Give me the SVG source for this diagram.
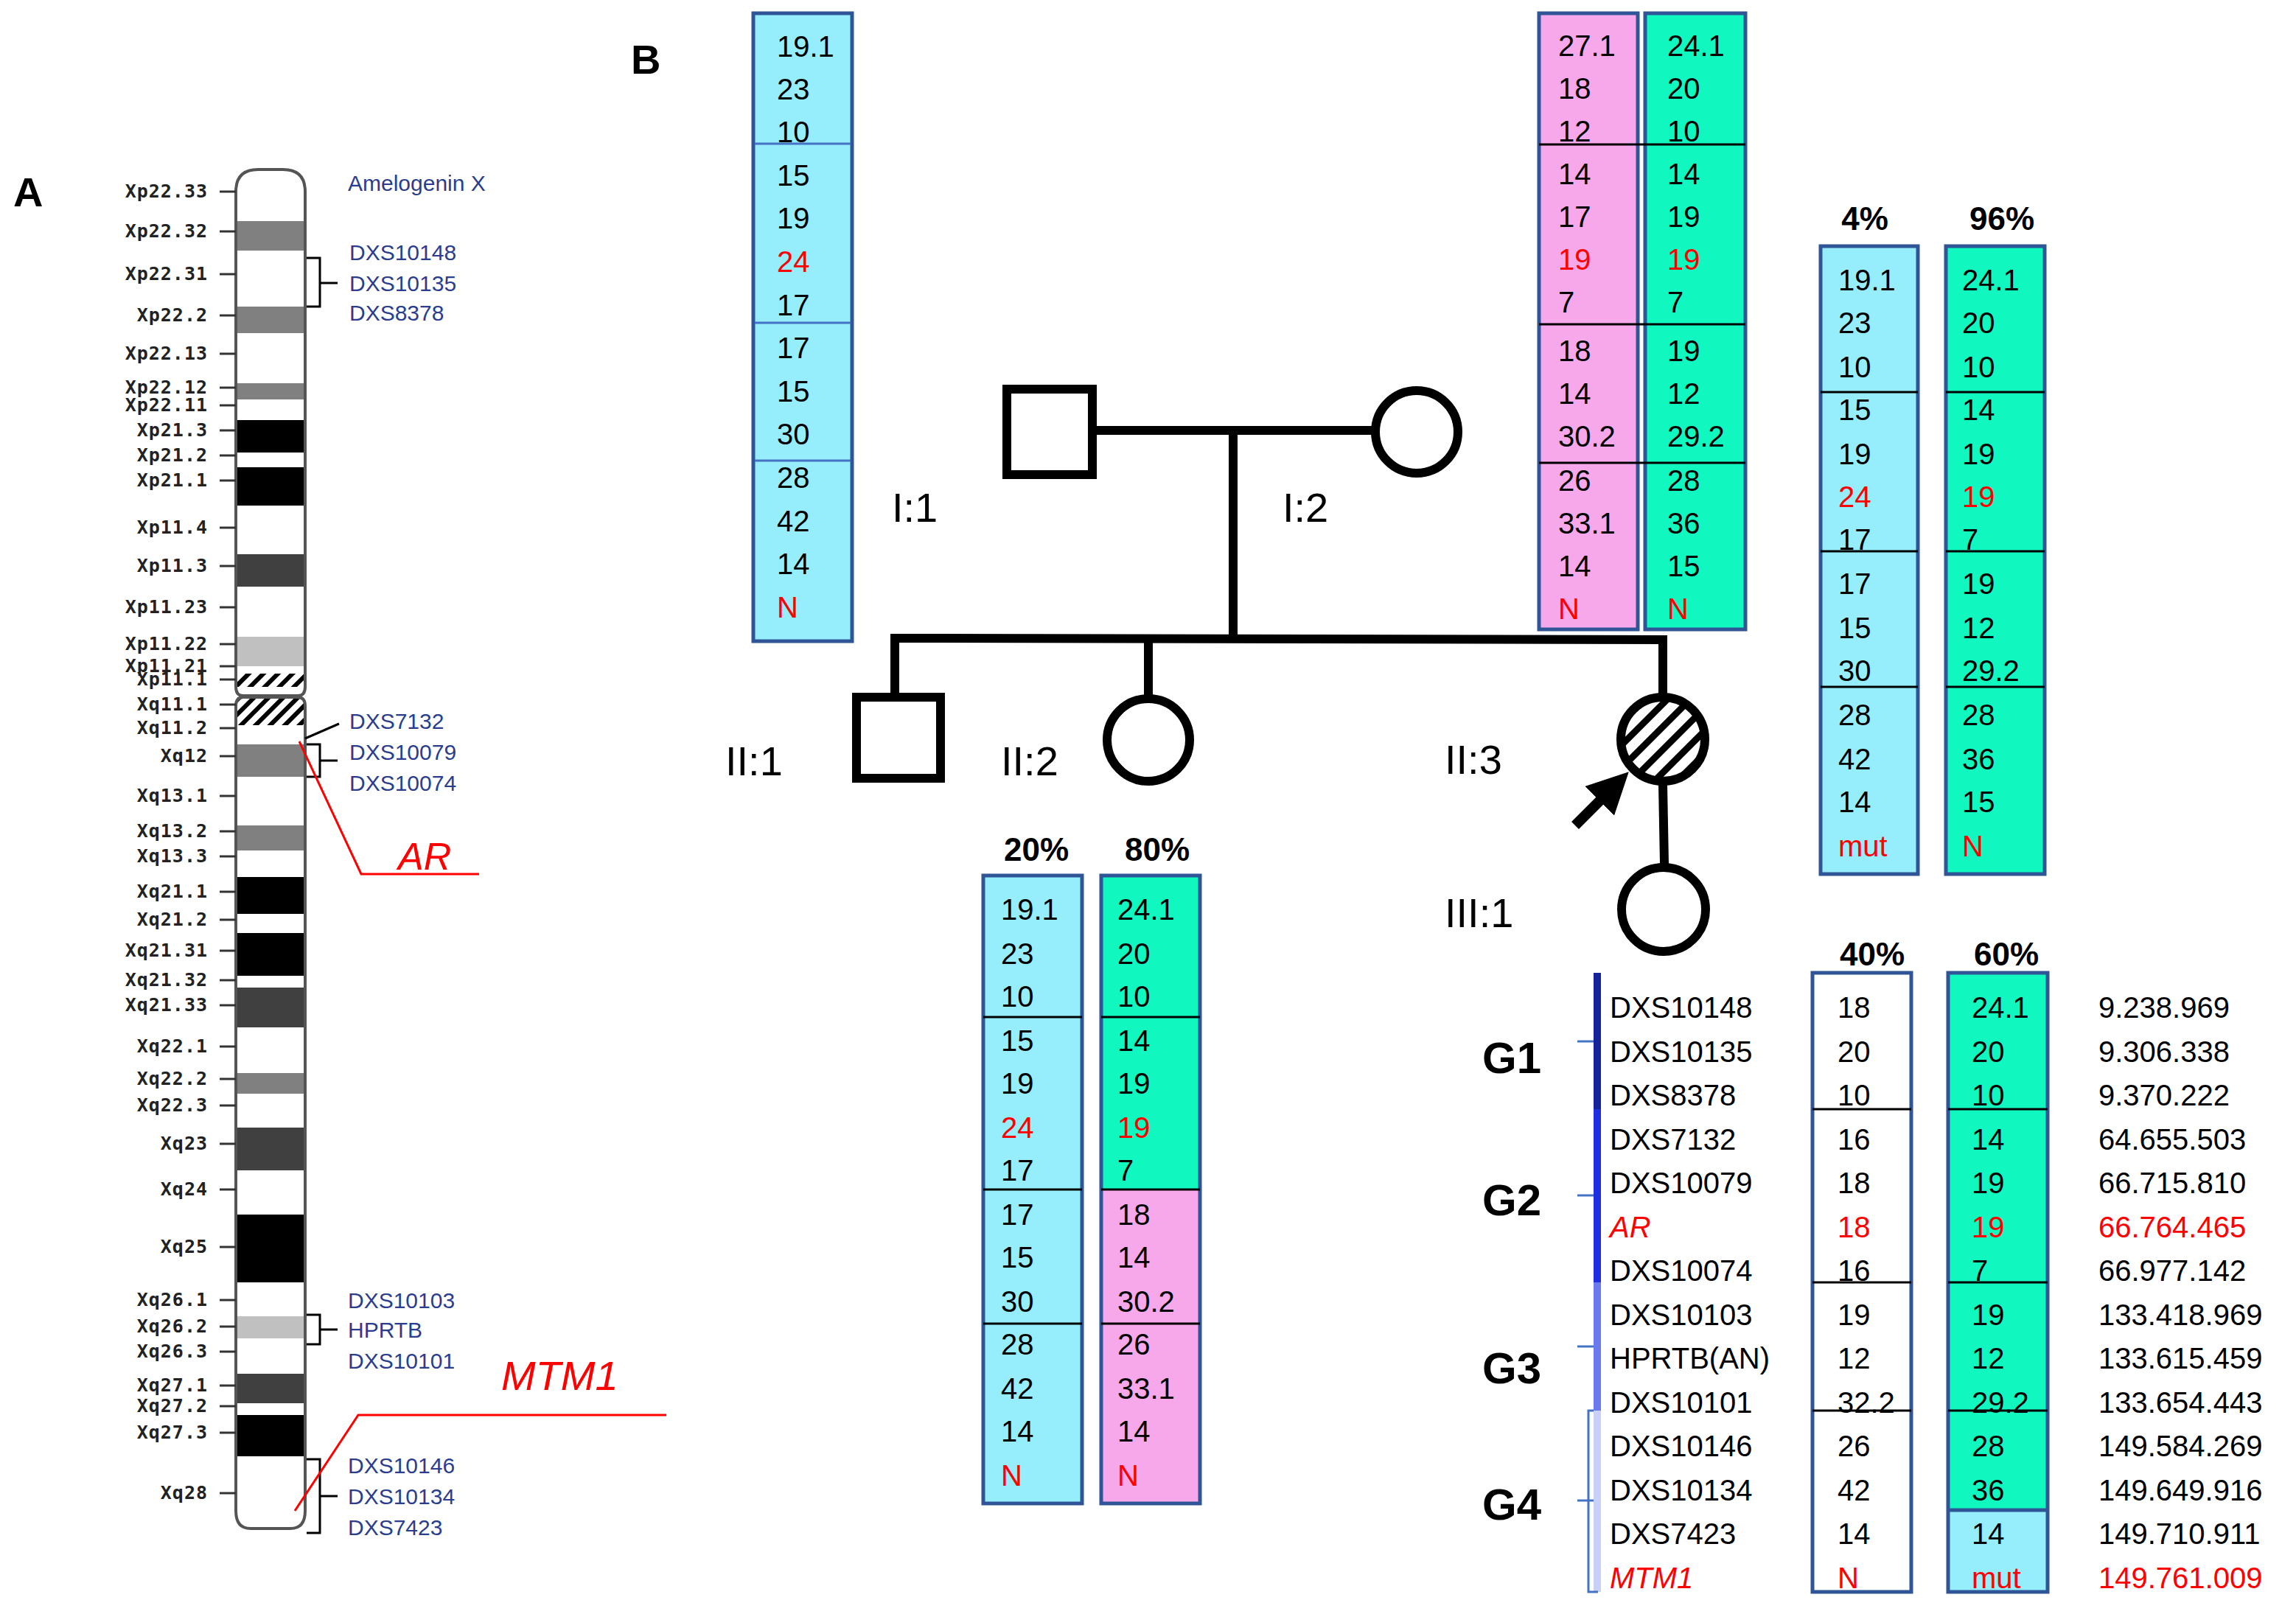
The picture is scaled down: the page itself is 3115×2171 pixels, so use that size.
<svg xmlns="http://www.w3.org/2000/svg" width="3115" height="2171" viewBox="0 0 3115 2171">
<style>
.t{font-family:"Liberation Sans",Arial,sans-serif;font-size:40px;fill:#000}
.r{fill:#f00}
.ped{font-family:"Liberation Sans",Arial,sans-serif;font-size:56px;fill:#000}
.hd{font-family:"Liberation Sans",Arial,sans-serif;font-size:44px;font-weight:bold;text-anchor:middle}
.g{font-family:"Liberation Sans",Arial,sans-serif;font-size:60px;font-weight:bold}
.band{font-family:"DejaVu Sans Mono",monospace;font-size:25px;font-weight:bold;fill:#222;text-anchor:end;letter-spacing:1px}
.mk{font-family:"Liberation Sans",Arial,sans-serif;font-size:30px;fill:#2b3d8f}
.box{stroke:#2f5597;stroke-width:5}
.sep{stroke:#000;stroke-width:3}
.sepb{stroke:#4472c4;stroke-width:3}
.ln{stroke:#000;stroke-width:12;fill:none}
.cy{fill:#96eefc}.gr{fill:#10f7c0}.pk{fill:#f7a8ea}
</style>
<defs>
<pattern id="hatch" width="22" height="22" patternUnits="userSpaceOnUse" patternTransform="rotate(45)">
<rect width="22" height="22" fill="#fff"/><rect width="9" height="22" fill="#000"/>
</pattern>
<pattern id="chatch" width="14" height="14" patternUnits="userSpaceOnUse" patternTransform="rotate(45)">
<rect width="14" height="14" fill="#fff"/><rect width="6" height="14" fill="#000"/>
</pattern>
<marker id="arr" markerWidth="4" markerHeight="4" refX="2" refY="2" orient="auto" markerUnits="strokeWidth">
<path d="M0,0 L4,2 L0,4 Z" fill="#000"/>
</marker>
</defs>
<rect width="3115" height="2171" fill="#fff"/>
<text x="18" y="280" style="font-family:'Liberation Sans',Arial,sans-serif;font-size:56px;font-weight:bold">A</text>
<text x="856" y="100" style="font-family:'Liberation Sans',Arial,sans-serif;font-size:56px;font-weight:bold">B</text>

<g id="chromosome">
<g fill="#808080">
<rect x="320" y="300" width="94" height="40"/><rect x="320" y="416" width="94" height="36"/><rect x="320" y="520" width="94" height="22"/>
<rect x="320" y="1010" width="94" height="44"/><rect x="320" y="1120" width="94" height="34"/><rect x="320" y="1456" width="94" height="28"/>
</g>
<g fill="#000">
<rect x="320" y="570" width="94" height="44"/><rect x="320" y="634" width="94" height="52"/>
<rect x="320" y="1190" width="94" height="50"/><rect x="320" y="1266" width="94" height="58"/>
<rect x="320" y="1648" width="94" height="92"/><rect x="320" y="1920" width="94" height="56"/>
</g>
<g fill="#404040">
<rect x="320" y="752" width="94" height="44"/><rect x="320" y="1340" width="94" height="54"/><rect x="320" y="1530" width="94" height="58"/><rect x="320" y="1864" width="94" height="40"/>
</g>
<g fill="#c0c0c0"><rect x="320" y="864" width="94" height="40"/><rect x="320" y="1786" width="94" height="30"/></g>
<rect x="322" y="914" width="90" height="18" fill="url(#chatch)"/>
<rect x="322" y="946" width="90" height="38" fill="url(#chatch)"/>
<path d="M320,932 L320,260 Q320,230 350,230 L384,230 Q414,230 414,260 L414,932 Q414,944 404,944 L330,944 Q320,944 320,932 Z" fill="none" stroke="#555" stroke-width="4"/>
<path d="M320,958 Q320,946 330,946 L404,946 Q414,946 414,958 L414,2050 Q414,2074 394,2074 L340,2074 Q320,2074 320,2050 Z" fill="none" stroke="#555" stroke-width="4"/>
<g stroke="#333" stroke-width="3">
<line x1="298" y1="260" x2="320" y2="260"/><line x1="298" y1="314" x2="320" y2="314"/><line x1="298" y1="372" x2="320" y2="372"/><line x1="298" y1="428" x2="320" y2="428"/><line x1="298" y1="480" x2="320" y2="480"/><line x1="298" y1="526" x2="320" y2="526"/><line x1="298" y1="550" x2="320" y2="550"/><line x1="298" y1="584" x2="320" y2="584"/><line x1="298" y1="618" x2="320" y2="618"/><line x1="298" y1="652" x2="320" y2="652"/><line x1="298" y1="716" x2="320" y2="716"/><line x1="298" y1="768" x2="320" y2="768"/><line x1="298" y1="824" x2="320" y2="824"/><line x1="298" y1="874" x2="320" y2="874"/><line x1="298" y1="904" x2="320" y2="904"/><line x1="298" y1="922" x2="320" y2="922"/><line x1="298" y1="956" x2="320" y2="956"/><line x1="298" y1="988" x2="320" y2="988"/><line x1="298" y1="1026" x2="320" y2="1026"/><line x1="298" y1="1080" x2="320" y2="1080"/><line x1="298" y1="1128" x2="320" y2="1128"/><line x1="298" y1="1162" x2="320" y2="1162"/><line x1="298" y1="1210" x2="320" y2="1210"/><line x1="298" y1="1248" x2="320" y2="1248"/><line x1="298" y1="1290" x2="320" y2="1290"/><line x1="298" y1="1330" x2="320" y2="1330"/><line x1="298" y1="1364" x2="320" y2="1364"/><line x1="298" y1="1420" x2="320" y2="1420"/><line x1="298" y1="1464" x2="320" y2="1464"/><line x1="298" y1="1500" x2="320" y2="1500"/><line x1="298" y1="1552" x2="320" y2="1552"/><line x1="298" y1="1614" x2="320" y2="1614"/><line x1="298" y1="1692" x2="320" y2="1692"/><line x1="298" y1="1764" x2="320" y2="1764"/><line x1="298" y1="1800" x2="320" y2="1800"/><line x1="298" y1="1834" x2="320" y2="1834"/><line x1="298" y1="1880" x2="320" y2="1880"/><line x1="298" y1="1908" x2="320" y2="1908"/><line x1="298" y1="1944" x2="320" y2="1944"/><line x1="298" y1="2026" x2="320" y2="2026"/>
</g>
<g class="band">
<text x="282" y="268">Xp22.33</text><text x="282" y="322">Xp22.32</text><text x="282" y="380">Xp22.31</text><text x="282" y="436">Xp22.2</text><text x="282" y="488">Xp22.13</text><text x="282" y="534">Xp22.12</text><text x="282" y="558">Xp22.11</text><text x="282" y="592">Xp21.3</text><text x="282" y="626">Xp21.2</text><text x="282" y="660">Xp21.1</text><text x="282" y="724">Xp11.4</text><text x="282" y="776">Xp11.3</text><text x="282" y="832">Xp11.23</text><text x="282" y="882">Xp11.22</text><text x="282" y="912">Xp11.21</text><text x="282" y="930">Xp11.1</text><text x="282" y="964">Xq11.1</text><text x="282" y="996">Xq11.2</text><text x="282" y="1034">Xq12</text><text x="282" y="1088">Xq13.1</text><text x="282" y="1136">Xq13.2</text><text x="282" y="1170">Xq13.3</text><text x="282" y="1218">Xq21.1</text><text x="282" y="1256">Xq21.2</text><text x="282" y="1298">Xq21.31</text><text x="282" y="1338">Xq21.32</text><text x="282" y="1372">Xq21.33</text><text x="282" y="1428">Xq22.1</text><text x="282" y="1472">Xq22.2</text><text x="282" y="1508">Xq22.3</text><text x="282" y="1560">Xq23</text><text x="282" y="1622">Xq24</text><text x="282" y="1700">Xq25</text><text x="282" y="1772">Xq26.1</text><text x="282" y="1808">Xq26.2</text><text x="282" y="1842">Xq26.3</text><text x="282" y="1888">Xq27.1</text><text x="282" y="1916">Xq27.2</text><text x="282" y="1952">Xq27.3</text><text x="282" y="2034">Xq28</text>
</g>
<g class="mk">
<text x="472" y="259">Amelogenin X</text>
<text x="474" y="353">DXS10148</text><text x="474" y="395">DXS10135</text><text x="474" y="435">DXS8378</text>
<text x="474" y="989">DXS7132</text><text x="474" y="1031">DXS10079</text><text x="474" y="1073">DXS10074</text>
<text x="472" y="1775">DXS10103</text><text x="472" y="1815">HPRTB</text><text x="472" y="1857">DXS10101</text>
<text x="472" y="1999">DXS10146</text><text x="472" y="2041">DXS10134</text><text x="472" y="2083">DXS7423</text>
</g>
<g stroke="#000" stroke-width="3" fill="none">
<path d="M416,350 L434,350 L434,416 L416,416 M434,384 L458,384"/>
<path d="M414,1002 L460,982"/>
<path d="M416,1010 L434,1010 L434,1054 L416,1054 M434,1032 L458,1032"/>
<path d="M416,1784 L434,1784 L434,1824 L416,1824 M434,1804 L458,1804"/>
<path d="M416,1980 L434,1980 L434,2080 L416,2080 M434,2030 L458,2030"/>
</g>
<g stroke="#f00" stroke-width="3" fill="none">
<path d="M406,1006 L490,1186 L650,1186"/>
<path d="M400,2050 L486,1920 L904,1920"/>
</g>
<text x="540" y="1180" style="font-family:'Liberation Sans',Arial,sans-serif;font-size:52px;font-style:italic;fill:#f00">AR</text>
<text x="680" y="1886" style="font-family:'Liberation Sans',Arial,sans-serif;font-size:56px;font-style:italic;fill:#f00">MTM1</text>
</g>

<g id="connectors" class="ln">
<line x1="1488" y1="584" x2="1865" y2="584"/>
<line x1="1673" y1="584" x2="1673" y2="868"/>
<line x1="1208" y1="866" x2="2262" y2="868"/>
<line x1="1214" y1="866" x2="1214" y2="942"/>
<line x1="1558" y1="866" x2="1558" y2="946"/>
<line x1="2256" y1="868" x2="2256" y2="945"/>
<line x1="2256" y1="1064" x2="2258" y2="1172"/>
<line x1="2137" y1="1120" x2="2190" y2="1067" stroke-width="14" marker-end="url(#arr)"/>
</g>

<g id="I1"><rect x="1366" y="528" width="116" height="116" class="ln" fill="#fff"/><text class="ped" x="1210" y="708">I:1</text></g>
<g id="I2"><circle cx="1922" cy="586" r="56" class="ln" fill="#fff"/><text class="ped" x="1740" y="708">I:2</text></g>
<g id="II1"><rect x="1162" y="946" width="114" height="110" class="ln" fill="#fff"/><text class="ped" x="984" y="1052">II:1</text></g>
<g id="II2"><circle cx="1558" cy="1004" r="56" class="ln" fill="#fff"/><text class="ped" x="1358" y="1052">II:2</text></g>
<g id="II3"><circle cx="2256" cy="1003" r="57" fill="url(#hatch)" stroke="#000" stroke-width="12"/><text class="ped" x="1960" y="1050">II:3</text></g>
<g id="III1"><circle cx="2257" cy="1234" r="57" class="ln" fill="#fff"/><text class="ped" x="1960" y="1258">III:1</text></g>

<g id="hap-I1">
<rect x="1022" y="18" width="134" height="852" class="box cy"/>
<line x1="1024" y1="195" x2="1154" y2="195" class="sepb"/><line x1="1024" y1="438" x2="1154" y2="438" class="sepb"/><line x1="1024" y1="625" x2="1154" y2="625" class="sepb"/>
<g class="t">
<text x="1054" y="77">19.1</text><text x="1054" y="135">23</text><text x="1054" y="193">10</text><text x="1054" y="252">15</text><text x="1054" y="310">19</text><text x="1054" y="369" class="r">24</text><text x="1054" y="428">17</text><text x="1054" y="486">17</text><text x="1054" y="545">15</text><text x="1054" y="603">30</text><text x="1054" y="662">28</text><text x="1054" y="721">42</text><text x="1054" y="779">14</text><text x="1054" y="838" class="r">N</text>
</g>
</g>

<g id="hap-I2">
<rect x="2088" y="18" width="134" height="836" class="box pk"/>
<rect x="2232" y="18" width="136" height="836" class="box gr"/>
<g class="sep"><line x1="2088" y1="196" x2="2368" y2="196"/><line x1="2088" y1="440" x2="2368" y2="440"/><line x1="2088" y1="628" x2="2368" y2="628"/></g>
<g class="t">
<text x="2114" y="76">27.1</text><text x="2114" y="134">18</text><text x="2114" y="192">12</text><text x="2114" y="250">14</text><text x="2114" y="308">17</text><text x="2114" y="366" class="r">19</text><text x="2114" y="424">7</text><text x="2114" y="490">18</text><text x="2114" y="548">14</text><text x="2114" y="606">30.2</text><text x="2114" y="666">26</text><text x="2114" y="724">33.1</text><text x="2114" y="782">14</text><text x="2114" y="840" class="r">N</text>
<text x="2262" y="76">24.1</text><text x="2262" y="134">20</text><text x="2262" y="192">10</text><text x="2262" y="250">14</text><text x="2262" y="308">19</text><text x="2262" y="366" class="r">19</text><text x="2262" y="424">7</text><text x="2262" y="490">19</text><text x="2262" y="548">12</text><text x="2262" y="606">29.2</text><text x="2262" y="666">28</text><text x="2262" y="724">36</text><text x="2262" y="782">15</text><text x="2262" y="840" class="r">N</text>
</g>
</g>

<g id="hap-II3">
<text class="hd" x="2530" y="312">4%</text><text class="hd" x="2716" y="312">96%</text>
<rect x="2470" y="334" width="132" height="852" class="box cy"/>
<rect x="2640" y="334" width="134" height="852" class="box gr"/>
<g class="sep"><line x1="2470" y1="532" x2="2602" y2="532"/><line x1="2470" y1="748" x2="2602" y2="748"/><line x1="2470" y1="932" x2="2602" y2="932"/><line x1="2640" y1="532" x2="2774" y2="532"/><line x1="2640" y1="748" x2="2774" y2="748"/><line x1="2640" y1="932" x2="2774" y2="932"/></g>
<g class="t">
<text x="2494" y="394">19.1</text><text x="2494" y="452">23</text><text x="2494" y="512">10</text><text x="2494" y="570">15</text><text x="2494" y="630">19</text><text x="2494" y="688" class="r">24</text><text x="2494" y="746">17</text><text x="2494" y="806">17</text><text x="2494" y="866">15</text><text x="2494" y="924">30</text><text x="2494" y="984">28</text><text x="2494" y="1044">42</text><text x="2494" y="1102">14</text><text x="2494" y="1162" class="r">mut</text>
<text x="2662" y="394">24.1</text><text x="2662" y="452">20</text><text x="2662" y="512">10</text><text x="2662" y="570">14</text><text x="2662" y="630">19</text><text x="2662" y="688" class="r">19</text><text x="2662" y="746">7</text><text x="2662" y="806">19</text><text x="2662" y="866">12</text><text x="2662" y="924">29.2</text><text x="2662" y="984">28</text><text x="2662" y="1044">36</text><text x="2662" y="1102">15</text><text x="2662" y="1162" class="r">N</text>
</g>
</g>

<g id="hap-II2">
<text class="hd" x="1406" y="1168">20%</text><text class="hd" x="1570" y="1168">80%</text>
<rect x="1334" y="1188" width="134" height="852" class="box cy"/>
<rect x="1494" y="1188" width="134" height="426" class="gr"/>
<rect x="1494" y="1614" width="134" height="426" class="pk"/>
<rect x="1494" y="1188" width="134" height="852" class="box" fill="none"/>
<g class="sep"><line x1="1334" y1="1380" x2="1468" y2="1380"/><line x1="1334" y1="1614" x2="1468" y2="1614"/><line x1="1334" y1="1796" x2="1468" y2="1796"/><line x1="1494" y1="1380" x2="1628" y2="1380"/><line x1="1494" y1="1614" x2="1628" y2="1614"/><line x1="1494" y1="1796" x2="1628" y2="1796"/></g>
<g class="t">
<text x="1358" y="1248">19.1</text><text x="1358" y="1308">23</text><text x="1358" y="1366">10</text><text x="1358" y="1426">15</text><text x="1358" y="1484">19</text><text x="1358" y="1544" class="r">24</text><text x="1358" y="1602">17</text><text x="1358" y="1662">17</text><text x="1358" y="1720">15</text><text x="1358" y="1780">30</text><text x="1358" y="1838">28</text><text x="1358" y="1898">42</text><text x="1358" y="1956">14</text><text x="1358" y="2016" class="r">N</text>
<text x="1516" y="1248">24.1</text><text x="1516" y="1308">20</text><text x="1516" y="1366">10</text><text x="1516" y="1426">14</text><text x="1516" y="1484">19</text><text x="1516" y="1544" class="r">19</text><text x="1516" y="1602">7</text><text x="1516" y="1662">18</text><text x="1516" y="1720">14</text><text x="1516" y="1780">30.2</text><text x="1516" y="1838">26</text><text x="1516" y="1898">33.1</text><text x="1516" y="1956">14</text><text x="1516" y="2016" class="r">N</text>
</g>
</g>

<g id="hap-III1">
<text class="hd" x="2540" y="1310">40%</text><text class="hd" x="2722" y="1310">60%</text>
<rect x="2162" y="1320" width="10" height="185" fill="#14239a"/>
<rect x="2162" y="1505" width="10" height="235" fill="#1f2ee0"/>
<rect x="2162" y="1740" width="10" height="174" fill="#6a7aee"/>
<rect x="2162" y="1914" width="10" height="246" fill="#c8d0f8"/>
<g stroke="#4472c4" stroke-width="3"><line x1="2140" y1="1413" x2="2162" y2="1413"/><line x1="2140" y1="1622" x2="2162" y2="1622"/><line x1="2140" y1="1827" x2="2162" y2="1827"/><line x1="2140" y1="2036" x2="2162" y2="2036"/><path d="M2162,1914 L2155,1914 L2155,2160 L2168,2160" fill="none"/></g>
<g class="g"><text x="2011" y="1456">G1</text><text x="2011" y="1649">G2</text><text x="2011" y="1877">G3</text><text x="2011" y="2062">G4</text></g>
<rect x="2459" y="1320" width="134" height="840" class="box" fill="#fff"/>
<rect x="2643" y="1320" width="135" height="729" class="gr"/>
<rect x="2643" y="2049" width="135" height="111" class="cy"/>
<rect x="2643" y="1320" width="135" height="840" class="box" fill="none"/>
<line x1="2643" y1="2049" x2="2778" y2="2049" stroke="#2f5597" stroke-width="5"/>
<g class="sep"><line x1="2459" y1="1505" x2="2593" y2="1505"/><line x1="2459" y1="1740" x2="2593" y2="1740"/><line x1="2459" y1="1914" x2="2593" y2="1914"/><line x1="2643" y1="1505" x2="2778" y2="1505"/><line x1="2643" y1="1740" x2="2778" y2="1740"/><line x1="2643" y1="1914" x2="2778" y2="1914"/></g>
<g class="t">
<text x="2184" y="1381">DXS10148</text><text x="2184" y="1441">DXS10135</text><text x="2184" y="1500">DXS8378</text><text x="2184" y="1560">DXS7132</text><text x="2184" y="1619">DXS10079</text><text x="2184" y="1679" class="r" font-style="italic">AR</text><text x="2184" y="1738">DXS10074</text><text x="2184" y="1798">DXS10103</text><text x="2184" y="1857">HPRTB(AN)</text><text x="2184" y="1917">DXS10101</text><text x="2184" y="1976">DXS10146</text><text x="2184" y="2036">DXS10134</text><text x="2184" y="2095">DXS7423</text><text x="2184" y="2155" class="r" font-style="italic">MTM1</text>
<text x="2493" y="1381">18</text><text x="2493" y="1441">20</text><text x="2493" y="1500">10</text><text x="2493" y="1560">16</text><text x="2493" y="1619">18</text><text x="2493" y="1679" class="r">18</text><text x="2493" y="1738">16</text><text x="2493" y="1798">19</text><text x="2493" y="1857">12</text><text x="2493" y="1917">32.2</text><text x="2493" y="1976">26</text><text x="2493" y="2036">42</text><text x="2493" y="2095">14</text><text x="2493" y="2155" class="r">N</text>
<text x="2675" y="1381">24.1</text><text x="2675" y="1441">20</text><text x="2675" y="1500">10</text><text x="2675" y="1560">14</text><text x="2675" y="1619">19</text><text x="2675" y="1679" class="r">19</text><text x="2675" y="1738">7</text><text x="2675" y="1798">19</text><text x="2675" y="1857">12</text><text x="2675" y="1917">29.2</text><text x="2675" y="1976">28</text><text x="2675" y="2036">36</text><text x="2675" y="2095">14</text><text x="2675" y="2155" class="r">mut</text>
<text x="2847" y="1381">9.238.969</text><text x="2847" y="1441">9.306.338</text><text x="2847" y="1500">9.370.222</text><text x="2847" y="1560">64.655.503</text><text x="2847" y="1619">66.715.810</text><text x="2847" y="1679" class="r">66.764.465</text><text x="2847" y="1738">66.977.142</text><text x="2847" y="1798">133.418.969</text><text x="2847" y="1857">133.615.459</text><text x="2847" y="1917">133.654.443</text><text x="2847" y="1976">149.584.269</text><text x="2847" y="2036">149.649.916</text><text x="2847" y="2095">149.710.911</text><text x="2847" y="2155" class="r">149.761.009</text>
</g>
</g>
</svg>
